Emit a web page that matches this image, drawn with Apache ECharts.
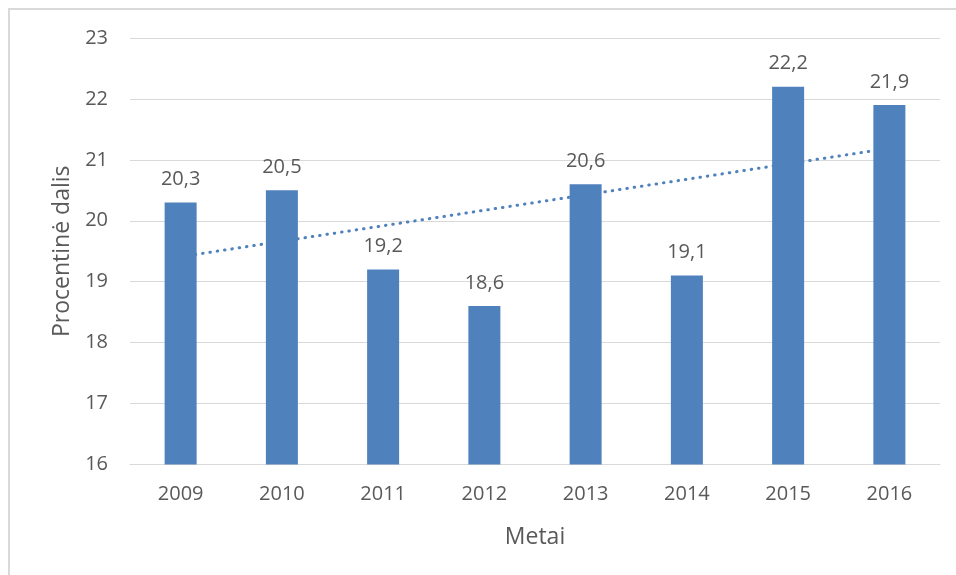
<!DOCTYPE html>
<html>
<head>
<meta charset="utf-8">
<script src="https://cdn.jsdelivr.net/npm/echarts@6/dist/echarts.min.js"></script>
<style>
html,body{margin:0;padding:0;background:#fff;}
#chart{width:956px;height:575px;}
</style>
</head>
<body>
<div id="chart"></div>
<script>
var categories = ['2009','2010','2011','2012','2013','2014','2015','2016'];
var values = [20.3, 20.5, 19.2, 18.6, 20.6, 19.1, 22.2, 21.9];
// linear trendline: value at first and last category
var trendValues = [19.41, null, null, null, null, null, null, 21.19];
var yTicks = {min: 16, max: 23, interval: 1};
var xTitle = 'Metai';
var yTitle = 'Procentinė dalis';

var font = 'Open Sans';
var textColor = '#595959';
var chart = echarts.init(document.getElementById('chart'), null, {renderer: 'canvas'});
chart.setOption({
  animation: false,
  backgroundColor: '#fff',
  graphic: [{
    type: 'rect',
    shape: {x: 9, y: 9, width: 1200, height: 1000},
    style: {fill: 'none', stroke: '#d9d9d9', lineWidth: 2},
    silent: true, z: -10
  }],
  grid: {left: 130, right: 16, top: 38, bottom: 110.5},
  xAxis: {
    type: 'category',
    data: categories,
    name: xTitle,
    nameLocation: 'middle',
    nameGap: 61,
    nameTextStyle: {fontFamily: font, fontSize: 23, color: textColor},
    axisLine: {show: true, lineStyle: {color: '#d9d9d9', width: 1}},
    axisTick: {show: false},
    axisLabel: {fontFamily: font, fontSize: 20, color: textColor, margin: 20}
  },
  yAxis: {
    type: 'value',
    min: yTicks.min, max: yTicks.max, interval: yTicks.interval,
    name: yTitle,
    nameLocation: 'middle',
    nameGap: 52,
    nameTextStyle: {fontFamily: font, fontSize: 23, color: textColor},
    axisLine: {show: false},
    axisTick: {show: false},
    axisLabel: {fontFamily: font, fontSize: 20, color: textColor, margin: 22},
    splitLine: {lineStyle: {color: '#d9d9d9', width: 1}}
  },
  series: [{
    type: 'line',
    data: trendValues,
    connectNulls: true,
    symbol: 'none',
    silent: true,
    z: 1,
    lineStyle: {color: '#4f81bd', width: 3, type: [0.5, 6.9], cap: 'round'}
  }, {
    type: 'bar',
    data: values,
    barWidth: 32,
    z: 2,
    itemStyle: {color: '#4f81bd'},
    label: {
      show: true, position: 'top', distance: 13,
      fontFamily: font, fontSize: 20, color: textColor,
      formatter: function (p) { return String(p.value).replace('.', ','); }
    }
  }]
});
</script>
</body>
</html>
